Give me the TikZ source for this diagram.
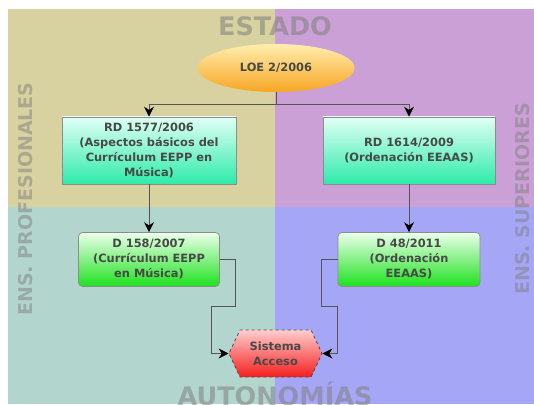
\documentclass[tikz,border=0pt]{standalone}
\usepackage{fontspec}
\setsansfont{DejaVu Sans}
\usepackage{xcolor}
\usepackage{tikz}
\usetikzlibrary{positioning,shapes.geometric,shapes.symbols,arrows.meta}

\definecolor{estadoL}{RGB}{216,210,160}
\definecolor{estadoR}{RGB}{203,160,214}
\definecolor{autoL}{RGB}{178,214,205}
\definecolor{autoR}{RGB}{166,166,246}
\definecolor{lineagris}{RGB}{85,85,85}
\definecolor{textogris}{RGB}{70,74,70}

\tikzset{
  zona/.style={font=\sffamily\bfseries\fontsize{25.5}{26}\selectfont, text=gray, text opacity=0.55},
  lado/.style={font=\sffamily\bfseries\fontsize{19}{20}\selectfont, text=gray, text opacity=0.5, rotate=90},
  caja/.style={draw=black!45, line width=0.7pt, align=center, inner sep=2pt,
    font=\sffamily\bfseries\fontsize{11.4}{15}\selectfont, text=textogris},
  rdbox/.style={caja, top color={rgb,255:red,225;green,255;blue,245}, bottom color={rgb,255:red,45;green,235;blue,170}, minimum height=67pt},
  dbox/.style={caja, rounded corners=4pt, top color={rgb,255:red,235;green,255;blue,235}, bottom color={rgb,255:red,30;green,225;blue,30}, minimum height=54pt},
  conn/.style={draw=lineagris, line width=0.9pt},
  flecha/.style={conn, -{Stealth[length=10pt,width=10pt,black]}}
}

\begin{document}
\begin{tikzpicture}[x=1pt,y=1pt]
  \def\mx{275}
  \def\my{197}

  \useasboundingbox (0,0) rectangle (534,404);

  % cuatro zonas de fondo
  \fill[estadoL] (8,395) rectangle (\mx,\my);
  \fill[estadoR] (\mx,395) rectangle (534,\my);
  \fill[autoL] (8,\my) rectangle (\mx,0);
  \fill[autoR] (\mx,\my) rectangle (534,0);

  % rotulos de las zonas
  \node[zona] (estado) at (\mx,378) {ESTADO};
  \node[zona, anchor=base] (autonomias) at (\mx,-1) {AUTONOMÍAS};
  \node[lado] (profesionales) at (26,205) {ENS. PROFESIONALES};
  \node[lado] (superiores) at (523,205) {ENS. SUPERIORES};

  % ley
  \node[ellipse, minimum width=157pt, minimum height=48pt,
        top color={rgb,255:red,255;green,238;blue,175}, bottom color={rgb,255:red,248;green,165;blue,35},
        font=\sffamily\bfseries\fontsize{11.4}{15}\selectfont, text=textogris] (loe) at (276,336) {LOE 2/2006};

  % reales decretos
  \node[rdbox, minimum width=174pt] (rda) at (149,253.5)
    {RD 1577/2006\\(Aspectos básicos del\\Currículum EEPP en\\Música)};
  \node[rdbox, minimum width=172pt] (rdb) at (409,253.5)
    {RD 1614/2009\\(Ordenación EEAAS)};

  % decretos autonomicos
  \node[dbox, minimum width=141pt] (da) at (149,144.5)
    {D 158/2007\\(Currículum EEPP\\en Música)};
  \node[dbox, minimum width=142pt] (db) at (409,144.5)
    {D 48/2011\\(Ordenación\\EEAAS)};

  % acceso
  \node[signal, signal to=west and east, signal pointer angle=130,
        minimum width=93pt, minimum height=47pt, inner sep=0pt,
        draw=black!70, dashed, line width=0.8pt,
        top color={rgb,255:red,255;green,205;blue,205}, bottom color={rgb,255:red,245;green,30;blue,30},
        font=\sffamily\bfseries\fontsize{11.4}{15}\selectfont, text=textogris, align=center] (acc) at (275.5,50.5)
    {Sistema\\Acceso};

  % conexiones
  \draw[conn] (loe.south) -- ++(0,-12) coordinate (rama);
  \draw[flecha] (rama) -| (rda.north);
  \draw[flecha] (rama) -| (rdb.north);
  \draw[flecha] (rda.south) -- (da.north);
  \draw[flecha] (rdb.south) -- (db.north);
  \draw[flecha] (da.east) -- ++(16,0) -- ++(0,-47) -- ++(-24,0) |- (acc.west);
  \draw[flecha] (db.west) -- ++(-16,0) -- ++(0,-47) -- ++(16,0) |- (acc.east);
\end{tikzpicture}
\end{document}
